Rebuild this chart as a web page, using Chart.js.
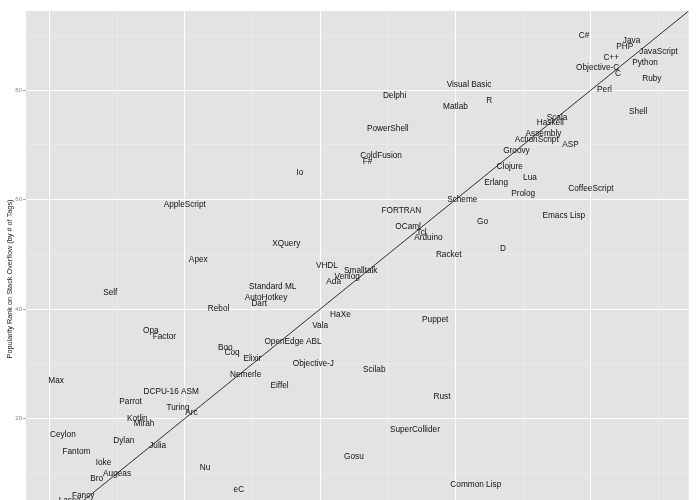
<!DOCTYPE html>
<html>
<head>
<meta charset="utf-8">
<script src="https://cdn.jsdelivr.net/npm/chart.js@4"></script>
<style>
  html, body { margin: 0; padding: 0; background: #fff; overflow: hidden; }
</style>
</head>
<body>
<canvas id="myChart" width="700" height="560"></canvas>
<script>
// datos: rank en GitHub (x) y en Stack Overflow (y)
const lenguajes = ['C#', 'Java', 'PHP', 'JavaScript', 'C++', 'Python', 'Objective-C', 'C', 'Ruby', 'Perl',
    'Visual Basic', 'R', 'Delphi', 'Matlab', 'Shell', 'Scala', 'Haskell', 'PowerShell', 'Assembly', 'ActionScript',
    'ASP', 'Groovy', 'ColdFusion', 'F#', 'Clojure', 'Io', 'Lua', 'Erlang', 'CoffeeScript', 'Prolog',
    'Scheme', 'AppleScript', 'FORTRAN', 'Emacs Lisp', 'Go', 'OCaml', 'Tcl', 'Arduino', 'XQuery', 'D',
    'Racket', 'Apex', 'VHDL', 'Smalltalk', 'Verilog', 'Ada', 'Standard ML', 'Self', 'AutoHotkey', 'Dart',
    'Rebol', 'HaXe', 'Puppet', 'Vala', 'Opa', 'Factor', 'OpenEdge ABL', 'Boo', 'Coq', 'Elixir',
    'Objective-J', 'Scilab', 'Nemerle', 'Max', 'Eiffel', 'DCPU-16 ASM', 'Rust', 'Parrot', 'Turing', 'Arc',
    'Kotlin', 'Mirah', 'SuperCollider', 'Ceylon', 'Dylan', 'Julia', 'Fantom', 'Gosu', 'Ioke', 'Nu',
    'Augeas', 'Bro', 'Common Lisp', 'eC', 'Fancy', 'Lasso'];
const rankGithub = [79, 86, 85, 90, 83, 88, 81, 84, 89, 82,
    62, 65, 51, 60, 87, 75, 74, 50, 73, 72,
    77, 69, 49, 47, 68, 37, 71, 66, 80, 70,
    61, 20, 52, 76, 64, 53, 55, 56, 35, 67,
    59, 22, 41, 46, 44, 42, 33, 9, 32, 31,
    25, 43, 57, 40, 15, 17, 36, 26, 27, 30,
    39, 48, 29, 1, 34, 18, 58, 12, 19, 21,
    13, 14, 54, 2, 11, 16, 4, 45, 8, 23,
    10, 7, 63, 28, 5, 3];
const rankStack = [90, 89, 88, 87, 86, 85, 84, 83, 82, 80,
    81, 78, 79, 77, 76, 75, 74, 73, 72, 71,
    70, 69, 68, 67, 66, 65, 64, 63, 62, 61,
    60, 59, 58, 57, 56, 55, 54, 53, 52, 51,
    50, 49, 48, 47, 46, 45, 44, 43, 42, 41,
    40, 39, 38, 37, 36, 35, 34, 33, 32, 31,
    30, 29, 28, 27, 26, 25, 24, 23, 22, 21,
    20, 19, 18, 17, 16, 15, 14, 13, 12, 11,
    10, 9, 8, 7, 6, 5];
const ejeMin = -3.45;
const ejeMax = 94.45;
const lineaRef = [ejeMin, ejeMax]; // recta y = x

const esMayor = v => Math.abs(v % 20) < 1e-9;

// fondo gris del panel
const fondo = {
    id: 'fondo',
    beforeDraw(chart) {
        const a = chart.chartArea;
        const ctx = chart.ctx;
        ctx.save();
        ctx.fillStyle = '#E3E3E3';
        ctx.fillRect(a.left, a.top, a.right - a.left, a.bottom - a.top);
        ctx.restore();
    }
};

// nombres de los lenguajes en cada punto
const etiquetas = {
    id: 'etiquetas',
    afterDatasetsDraw(chart) {
        const ctx = chart.ctx;
        const a = chart.chartArea;
        const meta = chart.getDatasetMeta(1);
        ctx.save();
        ctx.beginPath();
        ctx.rect(a.left, a.top, a.right - a.left, a.bottom - a.top);
        ctx.clip();
        ctx.font = '8.25px "Liberation Sans", Arial, sans-serif';
        ctx.fillStyle = '#111';
        ctx.textAlign = 'center';
        ctx.textBaseline = 'middle';
        meta.data.forEach((p, i) => ctx.fillText(lenguajes[i], p.x, p.y));
        ctx.restore();
    }
};

function grafico_rank() {
    const ctx = document.getElementById('myChart');

    new Chart(ctx, {
        type: 'scatter',
        data: {
            datasets: [{
                data: lineaRef.map(v => ({ x: v, y: v })),
                showLine: true,
                borderColor: '#000',
                borderWidth: 0.8,
                pointRadius: 0
            }, {
                data: rankGithub.map((x, i) => ({ x: x, y: rankStack[i] })),
                pointRadius: 0
            }]
        },
        options: {
            responsive: false,
            animation: false,
            layout: { padding: { left: 0, top: 11, right: 11.3, bottom: 13 } },
            plugins: {
                legend: { display: false },
                tooltip: { enabled: false }
            },
            scales: {
                x: {
                    type: 'linear',
                    min: ejeMin,
                    max: ejeMax,
                    border: { display: false },
                    ticks: { display: false, stepSize: 10, includeBounds: false },
                    grid: {
                        drawTicks: false,
                        color: c => esMayor(c.tick.value) ? '#FFFFFF' : '#EEEEEE',
                        lineWidth: c => esMayor(c.tick.value) ? 1.1 : 0.6
                    },
                    afterFit: s => { s.height = 0; }
                },
                y: {
                    type: 'linear',
                    min: ejeMin,
                    max: ejeMax,
                    border: { display: false },
                    ticks: {
                        stepSize: 10,
                        includeBounds: false,
                        padding: 1,
                        color: '#888',
                        font: { size: 6, family: 'Liberation Sans' },
                        callback: v => (esMayor(v) && v > 0) ? v : ''
                    },
                    grid: {
                        tickLength: 3,
                        tickWidth: 0.8,
                        tickColor: c => (esMayor(c.tick.value) && c.tick.value > 0) ? '#888' : 'rgba(0,0,0,0)',
                        color: c => esMayor(c.tick.value) ? '#FFFFFF' : '#EEEEEE',
                        lineWidth: c => esMayor(c.tick.value) ? 1.1 : 0.6
                    },
                    title: {
                        display: true,
                        text: 'Popularity Rank on Stack Overflow (by # of Tags)',
                        color: '#222',
                        font: { size: 7.3, family: 'Liberation Sans' },
                        padding: { top: 6, bottom: 0 }
                    },
                    afterFit: s => { s.width = 26; }
                }
            }
        },
        plugins: [fondo, etiquetas]
    });
}

grafico_rank();
</script>
</body>
</html>
